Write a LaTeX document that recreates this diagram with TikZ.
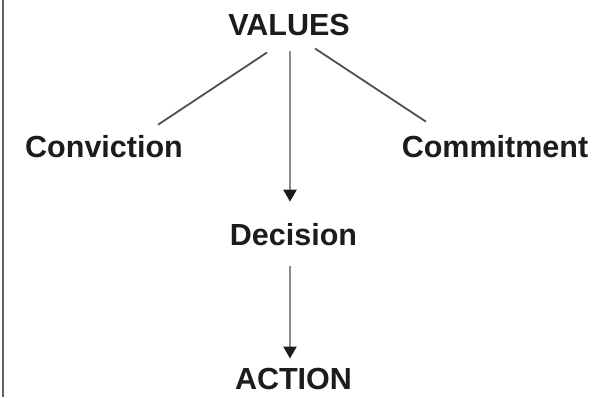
\documentclass[tikz,border=0pt]{standalone}
\usepackage{fontspec}
\setmainfont{Liberation Sans}
\usetikzlibrary{arrows.meta}
\definecolor{txt}{HTML}{1C1C1C}
\definecolor{diag}{HTML}{505050}
\definecolor{vert}{HTML}{8C8C8C}
\definecolor{frame}{HTML}{606060}
\tikzset{
  label/.style={inner sep=0pt, anchor=base, text=txt, font=\fontsize{30.5}{32}\selectfont\bfseries},
  diaglink/.style={draw=diag, line width=1.8pt},
  arrowlink/.style={draw=vert, line width=2.4pt, -{Triangle[length=12pt,width=13pt,fill=txt,color=txt]}},
}
\begin{document}
\begin{tikzpicture}[x=1pt,y=1pt]
\useasboundingbox (0,0) rectangle (605,-397);
\fill[white] (0,0) rectangle (605,-397);
\draw[frame, line width=2pt] (3,0) -- (3,-397);
\node[label] (values) at (289,-35) {VALUES};
\node[label] (conviction) at (104,-157) {Conviction};
\node[label] (commitment) at (495,-157) {Commitment};
\node[label] (decision) at (293.5,-245) {Decision};
\node[label] (action) at (293.5,-389) {ACTION};
\draw[diaglink] ([xshift=-22pt,yshift=-17pt]values.south) -- ([xshift=54pt,yshift=10pt]conviction.north);
\draw[diaglink] ([xshift=26pt,yshift=-13pt]values.south) -- ([xshift=-69pt,yshift=13pt]commitment.north);
\draw[arrowlink] ([xshift=1pt,yshift=-15pt]values.south) -- ([xshift=-3.5pt,yshift=21pt]decision.north);
\draw[arrowlink] ([xshift=-3.5pt,yshift=-20pt]decision.south) -- ([xshift=-3.5pt,yshift=9pt]action.north);
\end{tikzpicture}
\end{document}
